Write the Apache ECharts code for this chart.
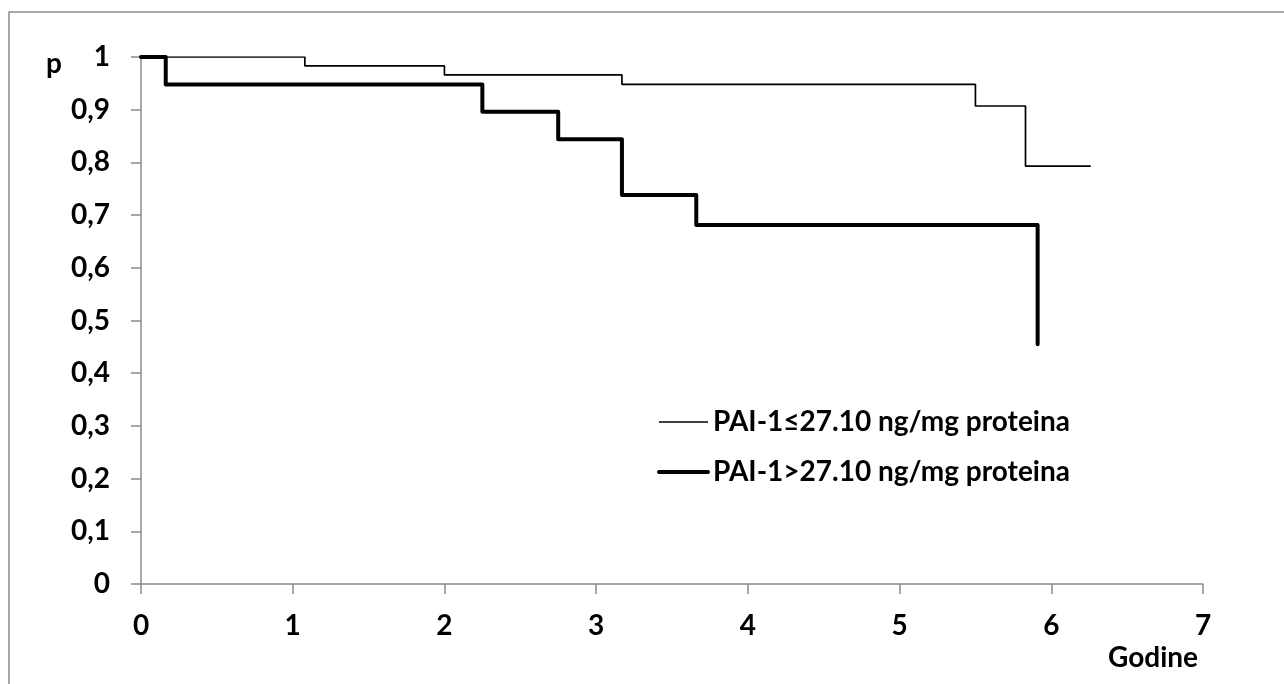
<!DOCTYPE html>
<html>
<head>
<meta charset="utf-8">
<script src="https://cdn.jsdelivr.net/npm/echarts@6/dist/echarts.min.js"></script>
<style>
html,body{margin:0;padding:0;background:#fff;}
#c{width:1284px;height:684px;}
</style>
</head>
<body>
<div id="c"></div>
<script>
// Kaplan-Meier step data (time in years, survival probability)
const lowNames = 'PAI-1≤27.10 ng/mg proteina';
const highNames = 'PAI-1>27.10 ng/mg proteina';
const lowTimes = [0, 1.08, 2.0, 3.17, 5.50, 5.83, 6.26];
const lowSurv  = [1, 0.983, 0.966, 0.948, 0.907, 0.793, 0.793];
const highTimes = [0, 0.163, 2.25, 2.75, 3.17, 3.66, 5.91];
const highSurv  = [1, 0.948, 0.896, 0.844, 0.738, 0.681, 0.455];
const xTicks = [0, 1, 2, 3, 4, 5, 6, 7];
const yAxisName = 'p';
const xAxisName = 'Godine';

const FONT = 'Lato, "Open Sans", sans-serif';
const FS = 28;
const zip = (a, b) => a.map((t, i) => [t, b[i]]);

const chart = echarts.init(document.getElementById('c'), null, {renderer: 'canvas'});
chart.setOption({
  animation: false,
  backgroundColor: '#fff',
  grid: {left: 141, right: 81, top: 57, bottom: 100, containLabel: false},
  xAxis: {
    type: 'value', min: xTicks[0], max: xTicks[xTicks.length - 1], interval: 1,
    axisLine: {show: true, lineStyle: {color: '#8c8c8c', width: 1.5}},
    axisTick: {show: true, length: 10, lineStyle: {color: '#8c8c8c', width: 1.5}},
    splitLine: {show: false},
    axisLabel: {margin: 28, color: '#000', fontFamily: FONT, fontWeight: 'bold', fontSize: FS}
  },
  yAxis: {
    type: 'value', min: 0, max: 1, interval: 0.1,
    axisLine: {show: true, lineStyle: {color: '#8c8c8c', width: 1.5}},
    axisTick: {show: true, length: 10, lineStyle: {color: '#8c8c8c', width: 1.5}},
    splitLine: {show: false},
    axisLabel: {
      margin: 31, color: '#000', fontFamily: FONT, fontWeight: 'bold', fontSize: FS,
      formatter: v => String(Math.round(v * 10) / 10).replace('.', ',')
    }
  },
  legend: {
    orient: 'vertical', left: 652, top: 401, itemWidth: 49, itemHeight: 14, itemGap: 18,
    itemStyle: {opacity: 0},
    textStyle: {color: '#000', fontFamily: FONT, fontWeight: 'bold', fontSize: FS, lineHeight: 32},
    data: [
      {name: lowNames, lineStyle: {width: 1.7, color: '#000'}},
      {name: highNames, lineStyle: {width: 4, color: '#000'}}
    ]
  },
  graphic: [
    {type: 'rect', shape: {x: 9, y: 12, width: 1300, height: 700}, style: {fill: 'none', stroke: '#8c8c8c', lineWidth: 1.5}, silent: true, z: -1},
    {type: 'text', left: 46, top: 50, style: {text: yAxisName, fill: '#000', font: 'bold ' + FS + 'px ' + FONT}},
    {type: 'text', left: 1108, top: 644, style: {text: xAxisName, fill: '#000', font: 'bold ' + FS + 'px ' + FONT}}
  ],
  series: [
    {
      name: lowNames, type: 'line', step: 'end', showSymbol: false, symbol: 'none',
      data: zip(lowTimes, lowSurv),
      lineStyle: {color: '#000', width: 1.7}, itemStyle: {color: '#000'}
    },
    {
      name: highNames, type: 'line', step: 'end', showSymbol: false, symbol: 'none',
      data: zip(highTimes, highSurv),
      lineStyle: {color: '#000', width: 4, cap: 'round', join: 'round'}, itemStyle: {color: '#000'}
    }
  ]
});
</script>
</body>
</html>
